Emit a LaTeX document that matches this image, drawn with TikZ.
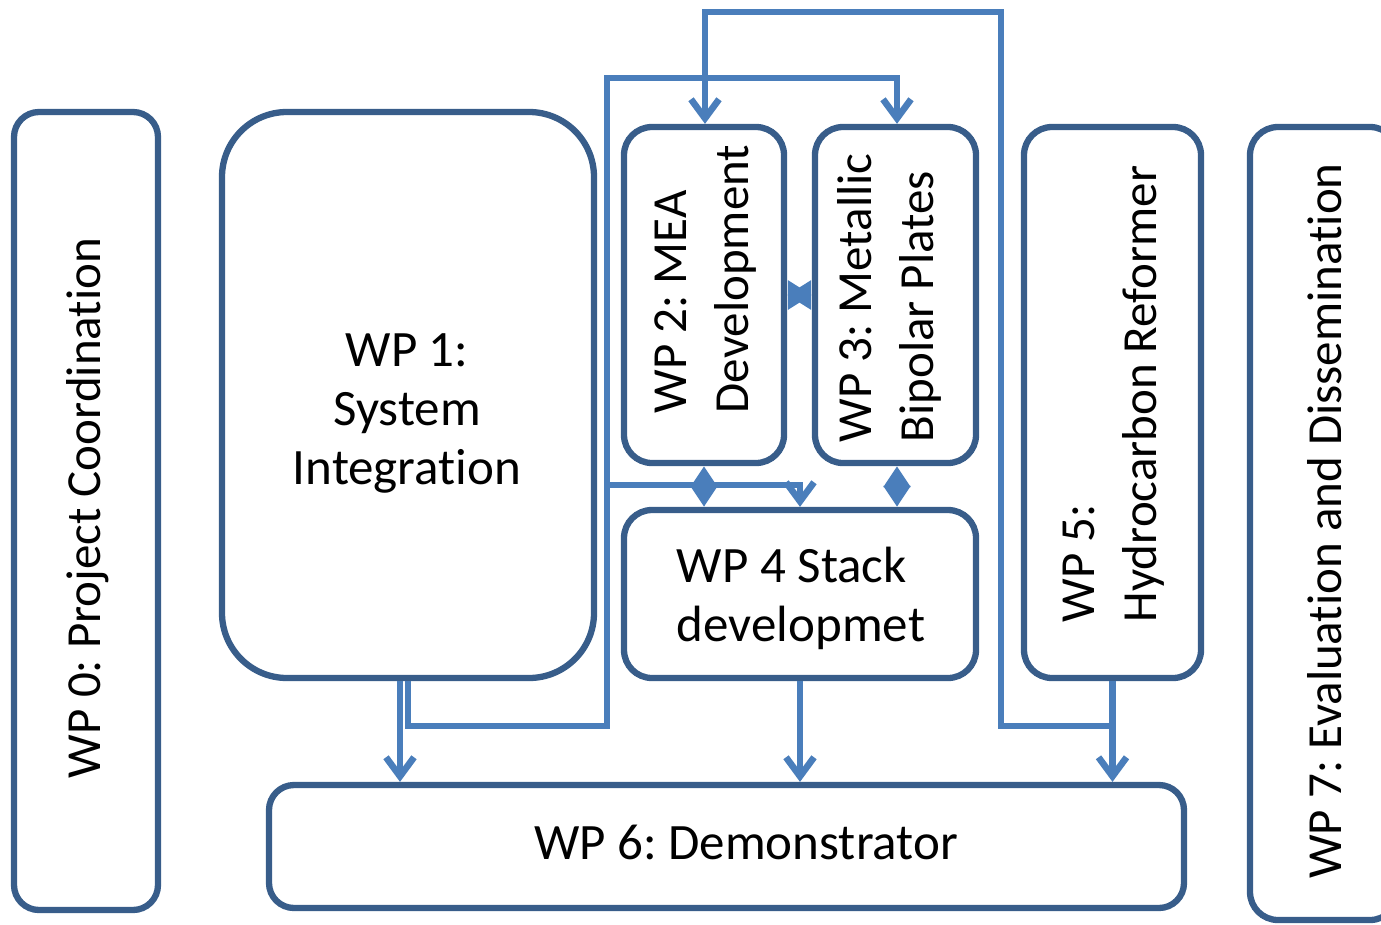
\documentclass[tikz,border=0pt]{standalone}
\usepackage{fontspec}
\setmainfont{Carlito}[Ligatures={NoCommon}]
\usetikzlibrary{arrows.meta,calc}
\definecolor{boxc}{HTML}{385D8A}
\definecolor{linec}{HTML}{4A7EBB}
\frenchspacing
\begin{document}
\begin{tikzpicture}[x=1pt,y=-1pt,
  wp/.style={rectangle, draw=boxc, line width=6.3pt, fill=white, rounded corners=#1, inner sep=0pt},
  wp/.default=28pt,
  lab/.style={inner sep=0pt, font=\fontsize{51}{59}\selectfont},
  rlab/.style={inner sep=0pt, rotate=90, align=left, font=\fontsize{49}{62}\selectfont},
  conn/.style={draw=linec, line width=6.6pt},
  arr/.style={conn, -{Straight Barb[length=19pt,width=28pt]}},
  darr/.style={conn, {Triangle[length=21pt,width=26pt]}-{Triangle[length=21pt,width=26pt]}},
  sarr/.style={conn, {Triangle[length=24pt,width=28pt]}-{Triangle[length=24pt,width=28pt]}}
]
\useasboundingbox (0,0) rectangle (1381,924);
\clip (0,0) rectangle (1381,924);

% boxes
\node[wp=25pt, minimum width=144pt, minimum height=798pt] (wp0) at (86,511) {};
\node[wp=65pt, minimum width=372pt, minimum height=566pt] (wp1) at (408,395) {};
\node[wp, minimum width=160pt, minimum height=336pt] (wp2) at (704,295) {};
\node[wp, minimum width=161pt, minimum height=336pt] (wp3) at (895.5,295) {};
\node[wp, minimum width=352pt, minimum height=168pt] (wp4) at (800,594) {};
\node[wp, minimum width=177pt, minimum height=551pt] (wp5) at (1112.5,402.5) {};
\node[wp=25pt, minimum width=915pt, minimum height=123pt] (wp6) at (726.5,846.5) {};
\node[wp, minimum width=148pt, minimum height=793pt] (wp7) at (1324,523.5) {};

% texts
\node[rlab, align=center] (t0) at (88,508) {WP 0: Project Coordination};
\node[lab, align=center] (t1) at (407,413) {WP 1:\\System\\Integration};
\node[rlab] (t2) at (706,279) {WP 2: MEA\\Development};
\node[rlab] (t3) at (889,298) {WP 3: Metallic\\Bipolar Plates};
\node[lab, align=left] (t4) at (801,598) {WP 4 Stack\\developmet};
\node[rlab] (t5) at (1114,394) {WP 5:\\Hydrocarbon Reformer};
\node[lab] (t6) at (746,842) {WP 6: Demonstrator};
\node[rlab, align=center] (t7) at (1325,521) {WP 7: Evaluation and Dissemination};

% junction coordinates
\coordinate (a1) at (408,726);
\coordinate (a2) at (607,726);
\coordinate (a3) at (607,78);
\coordinate (a4) at (897,78);
\coordinate (b1) at (607,485);
\coordinate (b2) at (800,485);
\coordinate (c1) at (1113,726);
\coordinate (c2) at (1001,726);
\coordinate (c3) at (1001,12);
\coordinate (c4) at (705,12);

% connectors
\draw[arr] ([xshift=-8pt]wp1.south) -- ([xshift=-8pt]wp1.south |- wp6.north);
\draw[arr] (wp1.south) -- (a1) -- (a2) -- (a3) -- (a4) -- (a4 |- wp3.north);
\draw[arr] (b1) -- (b2) -- (b2 |- wp4.north);
\draw[arr] (wp4.south) -- (wp4.south |- wp6.north);
\draw[arr] (wp5.south) -- (wp5.south |- wp6.north);
\draw[arr] (c1) -- (c2) -- (c3) -- (c4) -- (c4 |- wp2.north);
\draw[darr] (wp2.south) -- (wp2.south |- wp4.north);
\draw[darr] (a4 |- wp3.south) -- (a4 |- wp4.north);
\draw[sarr] (wp2.east) -- (wp3.west);
\end{tikzpicture}
\end{document}
